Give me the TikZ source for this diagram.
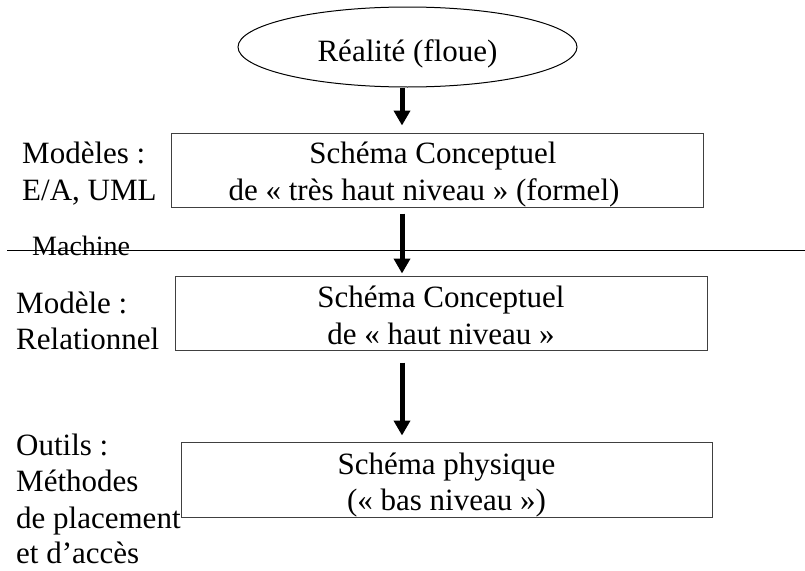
\documentclass[tikz,border=0pt]{standalone}
\usepackage{fontspec}
\setmainfont{Liberation Serif}
\usetikzlibrary{arrows.meta,shapes.geometric}
\tikzset{
  txt/.style={font=\fontsize{31}{37}\selectfont, inner sep=0pt, anchor=base},
  side/.style={txt, anchor=base west},
  stage/.style={draw=black!75, line width=1pt, inner sep=0pt},
  flow/.style={line width=5pt, -{Triangle[width=16pt,length=15pt]}},
}
\begin{document}
\begin{tikzpicture}[x=1pt, y=-1pt]
\useasboundingbox (0,0) rectangle (805,570);
\fill[white] (0,0) rectangle (805,570);

% starting point: the real world
\node[draw, line width=1pt, ellipse, minimum width=339pt, minimum height=80pt, inner sep=0pt] (e) at (407.5,47) {};
\node[txt] (et) at (407.5,61) {Réalité (floue)};

% the three levels of schema
\node[stage, minimum width=532pt, minimum height=74pt] (b1) at (437,170) {};
\node[txt] (b1a) at (433,163) {Schéma Conceptuel};
\node[txt] (b1b) at (424,200) {de « très haut niveau » (formel)};

\node[stage, minimum width=532pt, minimum height=74pt] (b2) at (441,313) {};
\node[txt] (b2a) at (441,307) {Schéma Conceptuel};
\node[txt] (b2b) at (441,344) {de « haut niveau »};

\node[stage, minimum width=531pt, minimum height=75pt] (b3) at (446.5,479.5) {};
\node[txt] (b3a) at (446.5,474) {Schéma physique};
\node[txt] (b3b) at (446.5,510) {(« bas niveau »)};

% notes on the left
\node[side] (m1) at (22,163) {Modèles :};
\node[side] (m2) at (22,200) {E/A, UML};
\node[side] (r1) at (16,313) {Modèle :};
\node[side] (r2) at (16,349) {Relationnel};
\node[side] (o1) at (16,455) {Outils :};
\node[side] (o2) at (16,491) {Méthodes};
\node[side] (o3) at (16,528) {de placement};
\node[side] (o4) at (16,563) {et d’accès};

% machine boundary
\coordinate (ml) at (7,250);
\coordinate (mr) at (805,250);
\draw[line width=1pt] (ml) -- (mr);
\node[inner sep=0pt, anchor=base west, font=\fontsize{28}{33}\selectfont] (mach) at (32,255) {Machine};

% refinement arrows
\coordinate (col) at (402,0);
\draw[flow, shorten >=7pt] (e.south -| col) -- (b1.north -| col);
\draw[flow, shorten <=6pt, shorten >=2pt] (b1.south -| col) -- (b2.north -| col);
\draw[flow, shorten <=12pt, shorten >=6pt] (b2.south -| col) -- (b3.north -| col);
\end{tikzpicture}
\end{document}
